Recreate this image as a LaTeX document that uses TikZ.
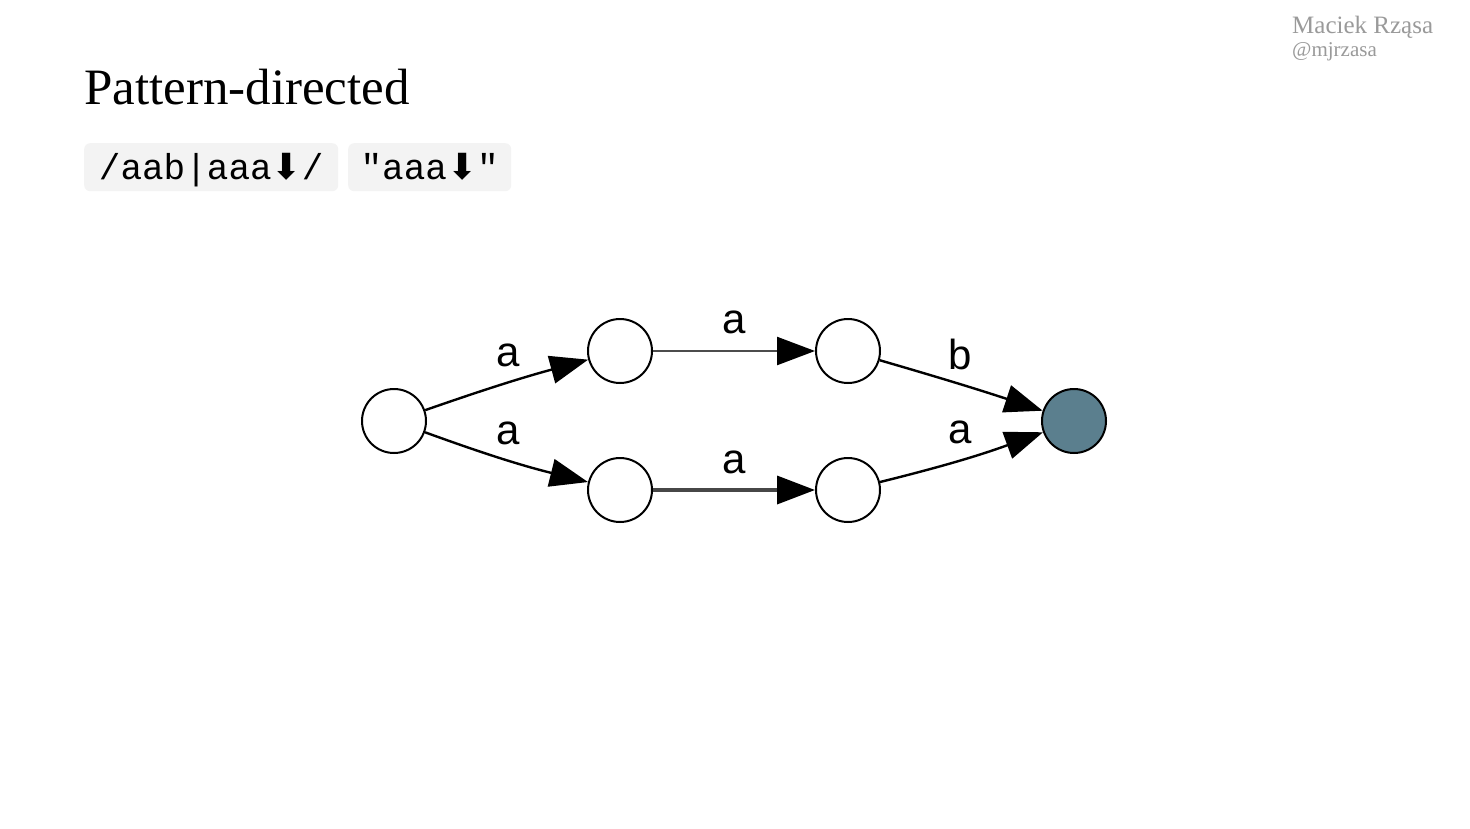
\documentclass[tikz,border=0pt]{standalone}
\usepackage{fontspec}
\setmainfont{Liberation Serif}
\newfontfamily\graphfont{Liberation Sans}
\newfontfamily\codefont{Liberation Mono}
\newfontfamily\symfont{DejaVu Sans}
\usetikzlibrary{arrows.meta}
\definecolor{codebg}{HTML}{F3F3F3}
\definecolor{authorgray}{HTML}{9A9A9A}
\definecolor{finalfill}{HTML}{5B7F8E}
\begin{document}
\begin{tikzpicture}[x=1pt,y=-1pt,
  state/.style={circle,draw=black,line width=2pt,minimum size=64pt,inner sep=0pt,fill=white},
  final/.style={state,fill=finalfill},
  edge/.style={line width=2.4pt,-{Triangle[length=38pt,width=28pt,color=black]}},
  lab/.style={font=\graphfont\fontsize{42}{46}\selectfont,inner sep=0pt},
  codebox/.style={fill=codebg,rounded corners=6pt,anchor=north west,inner sep=0pt,minimum height=48pt,text height=30pt,text depth=6pt,font=\codefont\fontsize{36}{40}\selectfont}
]
\useasboundingbox (0,0) rectangle (1470,828);
\fill[white] (0,0) rectangle (1470,828);

% header
\node[anchor=base west,inner sep=0pt,font=\fontsize{51}{58}\selectfont] (title) at (84,104) {Pattern-directed};
\node[anchor=base west,inner sep=0pt,text=authorgray,font=\fontsize{25}{28}\selectfont] (author) at (1292,33) {Maciek Rząsa};
\node[anchor=base west,inner sep=0pt,text=authorgray,font=\fontsize{21}{24}\selectfont] (handle) at (1292,56) {@mjrzasa};

\node[codebox,minimum width=254pt] (code1) at (84,143) {/aab|aaa{\symfont ⬇}/};
\node[codebox,minimum width=163pt] (code2) at (348,143) {"aaa{\symfont ⬇}"};

% automaton
\node[state] (n0) at (394,421) {};
\node[state] (n1) at (620,351) {};
\node[state] (n2) at (848,351) {};
\node[state] (n3) at (620,490) {};
\node[state] (n4) at (848,490) {};
\node[final] (n5) at (1074,421) {};

\draw[edge] (n0) to[bend left=2] (n1);
\draw[edge] (n0) to[bend right=3] (n3);
\draw[edge,draw=black!70] (n1) -- (n2);
\draw[edge,line width=3.6pt,draw=black!72] (n3) -- (n4);
\draw[edge] (n2) to[bend left=1] (n5);
\draw[edge] (n4) to[bend right=3] (n5);

\node[lab] (l01) at (508,355) {a};
\node[lab] (l03) at (508,433) {a};
\node[lab] (l12) at (734,322) {a};
\node[lab] (l34) at (734,462) {a};
\node[lab] (l25) at (960,354) {b};
\node[lab] (l45) at (960,432) {a};
\end{tikzpicture}
\end{document}
